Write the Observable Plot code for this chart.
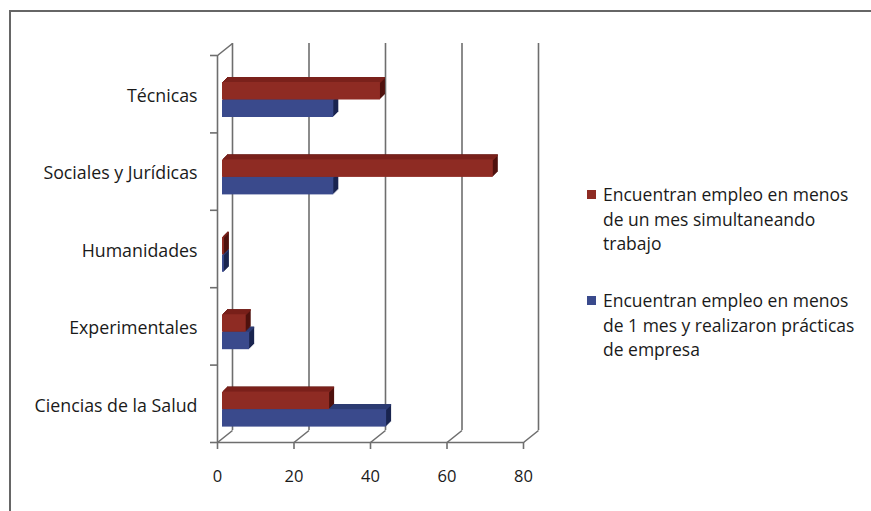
<!DOCTYPE html>
<html>
<head>
<meta charset="utf-8">
<script src="https://cdn.jsdelivr.net/npm/d3@7"></script>
<script src="https://cdn.jsdelivr.net/npm/@observablehq/plot@0.6"></script>
<style>
  html, body { margin: 0; padding: 0; background: #fff; }
  #wrap { position: relative; width: 871px; height: 511px; overflow: hidden; font-family: "Open Sans", sans-serif; color: #1a1a1a; }
  #frame { position: absolute; left: 9px; top: 10px; width: 870px; height: 520px; border-top: 2px solid #666; border-left: 2px solid #666; box-sizing: border-box; }
  #chart { position: absolute; left: 0; top: 0; }
  #legend { position: absolute; left: 587px; top: 182px; width: 280px; font-size: 17.5px; line-height: 24.5px; }
  .item { display: flex; align-items: flex-start; margin-bottom: 32.5px; }
  .sw { width: 9px; height: 9px; margin-top: 8px; margin-right: 7px; flex: none; }
</style>
</head>
<body>
<div id="wrap">
  <div id="frame"></div>
  <div id="chart"></div>
  <div id="legend"></div>
</div>
<script>
// Categories, bottom to top
const categories = ["Ciencias de la Salud", "Experimentales", "Humanidades", "Sociales y Jurídicas", "Técnicas"];
const seriesNames = [
  "Encuentran empleo en menos de un mes simultaneando trabajo",
  "Encuentran empleo en menos de 1 mes y realizaron prácticas de empresa"
];
// Series values (per category, same order as categories)
const simultaneando = [28, 6.2, 0.5, 70.8, 41.3];
const practicas = [42.9, 7.1, 0.5, 29.1, 29.1];
const xTicks = [0, 20, 40, 60, 80];

const colors = {
  red: { front: "#8e2b23", top: "#7a211b", side: "#4f120e" },
  blue: { front: "#3a4a8c", top: "#2e3c74", side: "#1a2550" }
};

const W = 560, H = 511, mL = 217, mR = 37, mT = 55, mB = 69;
const pxPerX = (W - mL - mR) / 80;
const band = (H - mT - mB) / categories.length;
// 3D wall depth (pixels) converted to data units
const depthX = 15, depthY = 12;
const DX = depthX / pxPerX, DY = depthY / band;

const redRows = categories.map((c, i) => ({ cat: c, i, v: simultaneando[i] }));
const blueRows = categories.map((c, i) => ({ cat: c, i, v: practicas[i] }));

const barOff = 5;   // bar front-face offset inside the 3D box
const ext = 5;      // bar extrusion depth
function barMarks(rows, insetTop, insetBottom, col) {
  const marks = [];
  const base = { x1: 0, x2: "v", y1: "i", y2: d => d.i + 1, insetTop, insetBottom };
  for (let k = ext; k >= 1; k--) {
    marks.push(Plot.rect(rows, { ...base, fill: col.side, dx: barOff + k, dy: -k }));
  }
  for (let k = ext; k >= 1; k--) {
    marks.push(Plot.rect(rows, { ...base, insetBottom: band - insetTop - 1.6, fill: col.top, dx: barOff + k, dy: -k }));
  }
  marks.push(Plot.rect(rows, { ...base, fill: col.front, dx: barOff }));
  return marks;
}

const gridStroke = "#6e6e6e";
const chart = Plot.plot({
  width: W, height: H,
  marginLeft: mL, marginRight: mR, marginTop: mT, marginBottom: mB,
  style: { fontFamily: "Open Sans", fontSize: "16px", color: "#1a1a1a", background: "transparent" },
  x: { domain: [0, 80] },
  y: { domain: [0, categories.length] },
  marks: [
    // back wall gridlines
    Plot.ruleX(xTicks, { x: d => d, dx: depthX, dy: -depthY, stroke: gridStroke, strokeWidth: 1.6 }),
    // floor diagonals
    Plot.link(xTicks, { x1: d => d, y1: 0, x2: d => d + DX, y2: DY, stroke: gridStroke, strokeWidth: 1.6 }),
    // top-left diagonal of the side wall
    Plot.link([categories.length], { x1: 0, y1: d => d, x2: DX, y2: d => d + DY, stroke: gridStroke, strokeWidth: 1.6 }),
    // front left axis line and floor front line
    Plot.ruleX([0], { stroke: gridStroke, strokeWidth: 1.6 }),
    Plot.ruleY([0], { stroke: gridStroke, strokeWidth: 1.6 }),
    // bars
    ...barMarks(blueRows, 44.5, band - 62, colors.blue),
    ...barMarks(redRows, 27, band - 44.5, colors.red),
    // axes
    Plot.axisX({ ticks: xTicks, tickSize: 7, tickPadding: 21, fontSize: 16.5, label: null, stroke: gridStroke, strokeWidth: 1.6 }),
    Plot.axisY({ ticks: d3.range(categories.length + 1), tickSize: 7, tickFormat: () => "", label: null, stroke: gridStroke, strokeWidth: 1.6 }),
    Plot.axisY({ ticks: categories.map((c, i) => i + 0.5), tickSize: 0, tickPadding: 20, dy: 2, fontSize: 17.8,
      tickFormat: d => categories[Math.floor(d)], label: null })
  ]
});
document.getElementById("chart").appendChild(chart);

const legend = document.getElementById("legend");
[[seriesNames[0], colors.red.front], [seriesNames[1], colors.blue.front]].forEach(([name, c]) => {
  const it = document.createElement("div");
  it.className = "item";
  const sw = document.createElement("div");
  sw.className = "sw";
  sw.style.background = c;
  const tx = document.createElement("div");
  tx.textContent = name;
  it.appendChild(sw); it.appendChild(tx);
  legend.appendChild(it);
});
</script>
</body>
</html>
